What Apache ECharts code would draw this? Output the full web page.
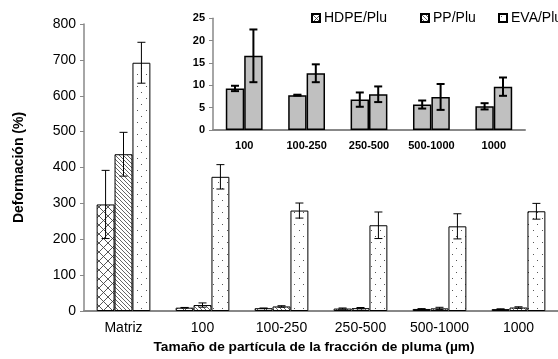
<!DOCTYPE html>
<html>
<head>
<meta charset="utf-8">
<script src="https://cdn.jsdelivr.net/npm/echarts@6/dist/echarts.min.js"></script>
<style>
  html, body { margin: 0; padding: 0; background: #fff; }
  #chart { width: 558px; height: 359px; }
</style>
</head>
<body>
<div id="chart"></div>
<script>
// Particle-size fractions of the feather filler
const categories = ['Matriz', '100', '100-250', '250-500', '500-1000', '1000'];

// Elongation at break (%) and standard deviations
const hdpe = [297, 9.3, 7.8, 6.8, 5.7, 5.3];
const hdpeErr = [95, 0.6, 0.1, 1.6, 0.9, 0.7];
const pp = [437, 16.6, 12.7, 8.0, 7.4, 9.7];
const ppErr = [61, 5.9, 2.0, 1.75, 2.9, 2.05];
const eva = [692, 374, 280, 239, 236, 278];
const evaErr = [57, 34, 21, 37, 35, 22];

const seriesNames = ['HDPE/Plu', 'PP/Plu', 'EVA/Plu'];
const mainTicks = [0, 100, 200, 300, 400, 500, 600, 700, 800];
const insetTicks = [0, 5, 10, 15, 20, 25];

const FONT = '"Liberation Sans", Arial, sans-serif';

// Hatch fills drawn onto small tiles
function tile(w, h, draw) {
  const c = document.createElement('canvas');
  c.width = w; c.height = h;
  const g = c.getContext('2d');
  g.fillStyle = '#fff';
  g.fillRect(0, 0, w, h);
  draw(g);
  return { image: c, repeat: 'repeat' };
}
const crossHatch = tile(9, 9, g => {
  g.strokeStyle = '#444';
  g.lineWidth = 0.9;
  g.beginPath();
  g.moveTo(0, 0); g.lineTo(9, 9);
  g.moveTo(9, 0); g.lineTo(0, 9);
  g.stroke();
});
const diagHatch = tile(4, 4, g => {
  g.strokeStyle = '#555';
  g.lineWidth = 0.9;
  g.beginPath();
  g.moveTo(-1, -1); g.lineTo(5, 5);
  g.moveTo(-1, 3); g.lineTo(1, 5);
  g.moveTo(3, -1); g.lineTo(5, 1);
  g.stroke();
});
const dotFill = tile(9, 12, g => {
  g.fillStyle = '#555';
  g.fillRect(2, 2, 1, 1);
  g.fillRect(6, 8, 1, 1);
});
const fills = [crossHatch, diagHatch, dotFill];

const MAIN_GAP = 0.32;
const INSET_GAP = 0.41;

// Error whiskers placed with the axis scales
function whiskers(seriesIdx, count, gap, capW, lw) {
  return function (params, api) {
    const idx = api.value(0);
    const v = api.value(1);
    const e = api.value(2);
    const catW = api.size([1, 0])[0];
    const barW = catW * (1 - gap) / count;
    const dx = (seriesIdx - (count - 1) / 2) * barW;
    const hi = api.coord([idx, v + e]);
    const lo = api.coord([idx, v - e]);
    const x = hi[0] + dx;
    const style = { stroke: '#000', lineWidth: lw };
    return {
      type: 'group',
      children: [
        { type: 'line', shape: { x1: x, y1: hi[1], x2: x, y2: lo[1] }, style },
        { type: 'line', shape: { x1: x - capW / 2, y1: hi[1], x2: x + capW / 2, y2: hi[1] }, style },
        { type: 'line', shape: { x1: x - capW / 2, y1: lo[1], x2: x + capW / 2, y2: lo[1] }, style }
      ]
    };
  };
}

const mainValues = [hdpe, pp, eva];
const mainErrs = [hdpeErr, ppErr, evaErr];
const insetValues = [hdpe.slice(1), pp.slice(1)];
const insetErrs = [hdpeErr.slice(1), ppErr.slice(1)];
const insetCats = categories.slice(1);

const series = [];
mainValues.forEach((vals, i) => {
  series.push({
    name: seriesNames[i], type: 'bar', xAxisIndex: 0, yAxisIndex: 0,
    data: vals, barGap: '0%', barCategoryGap: (MAIN_GAP * 100) + '%',
    itemStyle: { color: fills[i], borderColor: '#000', borderWidth: 1 },
    emphasis: { disabled: true }, animation: false
  });
});
mainValues.forEach((vals, i) => {
  series.push({
    type: 'custom', xAxisIndex: 0, yAxisIndex: 0, z: 5, animation: false,
    renderItem: whiskers(i, 3, MAIN_GAP, 8, 1),
    data: vals.map((v, k) => [k, v, mainErrs[i][k]])
  });
});
insetValues.forEach((vals, i) => {
  series.push({
    type: 'bar', xAxisIndex: 1, yAxisIndex: 1,
    data: vals, barGap: '0%', barCategoryGap: (INSET_GAP * 100) + '%',
    itemStyle: { color: '#c0c0c0', borderColor: '#000', borderWidth: 1.5 },
    emphasis: { disabled: true }, animation: false
  });
});
insetValues.forEach((vals, i) => {
  series.push({
    type: 'custom', xAxisIndex: 1, yAxisIndex: 1, z: 5, animation: false,
    renderItem: whiskers(i, 2, INSET_GAP, 8, 2),
    data: vals.map((v, k) => [k, v, insetErrs[i][k]])
  });
});

const legendPos = [306, 415, 493];
const legends = seriesNames.map((n, i) => ({
  data: [{ name: n, icon: 'rect' }], left: legendPos[i], top: 6, itemWidth: 8, itemHeight: 8, itemGap: 4,
  textStyle: { fontFamily: FONT, fontSize: 14, color: '#000', padding: [0, 0, 0, -1] },
  selectedMode: false
}));

const chart = echarts.init(document.getElementById('chart'), null, { renderer: 'canvas' });
chart.setOption({
  animation: false,
  backgroundColor: '#fff',
  legend: legends,
  grid: [
    { left: 84, top: 24, width: 476, height: 288 },
    { left: 213, top: 18.3, width: 312, height: 111.7 }
  ],
  xAxis: [
    {
      type: 'category', gridIndex: 0, data: categories,
      name: 'Tamaño de partícula de la fracción de pluma (µm)',
      nameLocation: 'middle', nameGap: 29,
      nameTextStyle: { fontFamily: FONT, fontSize: 13.7, fontWeight: 'bold', color: '#000', padding: [0, 14, 0, 0] },
      axisLine: { lineStyle: { color: '#888', width: 2 } },
      axisTick: { lineStyle: { color: '#888' }, length: 4 },
      axisLabel: { fontFamily: FONT, fontSize: 14, color: '#000', margin: 10 }
    },
    {
      type: 'category', gridIndex: 1, data: insetCats,
      axisLine: { lineStyle: { color: '#888', width: 2 } },
      axisTick: { lineStyle: { color: '#888' }, length: 4 },
      axisLabel: { fontFamily: FONT, fontSize: 11, fontWeight: 'bold', color: '#000', margin: 10 }
    }
  ],
  yAxis: [
    {
      type: 'value', gridIndex: 0, min: mainTicks[0], max: mainTicks[mainTicks.length - 1], interval: 100,
      name: 'Deformación (%)', nameLocation: 'middle', nameGap: 58, nameRotate: 90,
      nameTextStyle: { fontFamily: FONT, fontSize: 14, fontWeight: 'bold', color: '#000' },
      axisLine: { show: true, lineStyle: { color: '#888', width: 1.5 } },
      axisTick: { show: true, lineStyle: { color: '#888' }, length: 4 },
      splitLine: { show: false },
      axisLabel: { fontFamily: FONT, fontSize: 14, color: '#000', margin: 8 }
    },
    {
      type: 'value', gridIndex: 1, min: insetTicks[0], max: insetTicks[insetTicks.length - 1], interval: 5,
      axisLine: { show: true, lineStyle: { color: '#888', width: 1.5 } },
      axisTick: { show: true, lineStyle: { color: '#888' }, length: 4 },
      splitLine: { show: false },
      axisLabel: { fontFamily: FONT, fontSize: 11, fontWeight: 'bold', color: '#000', margin: 8 }
    }
  ],
  series: series
});
</script>
</body>
</html>
